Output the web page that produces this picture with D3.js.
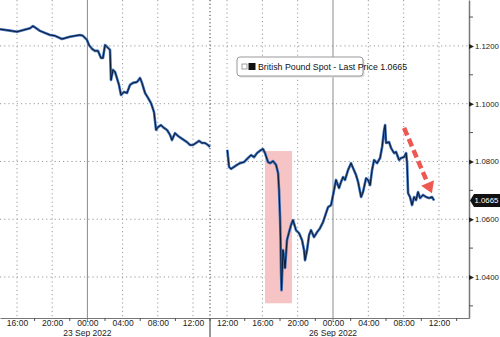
<!DOCTYPE html>
<html lang="en">
<head>
<meta charset="UTF-8">
<title>GBP spot</title>
<script src="https://cdn.jsdelivr.net/npm/d3@7"></script>
<style>
  body { margin: 0; background: #fff; }
  text { font-family: "Liberation Sans", Arial, sans-serif; }
</style>
</head>
<body>
<div id="chart"></div>
<script>
// hours counted from 22 Sep 2022 00:00, friday session then sunday/monday session
var hoursFri = [14.07, 15.2, 16.0, 17.48, 17.82, 18.61, 19.75, 20.32, 21.11, 22.02, 23.16, 23.5, 23.95, 24.18, 24.52, 24.86, 25.2, 25.55, 25.77, 26.0, 26.23, 26.57, 26.68, 26.91, 27.14, 27.59, 27.82, 28.16, 28.5, 28.84, 29.18, 29.64, 29.98, 30.2, 30.55, 30.89, 31.23, 31.57, 31.8, 32.02, 32.36, 32.7, 33.05, 33.39, 33.61, 33.95, 34.3, 34.64, 34.98, 35.32, 35.66, 36.0, 36.34, 36.68, 37.02, 37.36, 37.7, 37.93];
var priceFri = [1.1258, 1.1253, 1.1249, 1.1261, 1.1269, 1.1252, 1.1238, 1.1235, 1.1224, 1.1232, 1.1238, 1.1235, 1.1221, 1.1203, 1.1190, 1.1183, 1.1183, 1.1158, 1.1158, 1.1203, 1.1197, 1.1186, 1.1082, 1.1117, 1.1110, 1.1065, 1.1030, 1.1041, 1.1037, 1.1065, 1.1072, 1.1075, 1.1089, 1.1072, 1.1037, 1.1020, 1.1002, 1.0971, 1.0909, 1.0919, 1.0926, 1.0916, 1.0909, 1.0892, 1.0874, 1.0898, 1.0888, 1.0881, 1.0874, 1.0867, 1.0857, 1.0857, 1.0864, 1.0871, 1.0864, 1.0864, 1.0857, 1.0850];

var hoursMon = [84.03, 84.23, 84.45, 84.79, 85.13, 85.47, 85.93, 86.38, 86.72, 87.06, 87.4, 87.85, 88.08, 88.3, 88.64, 88.87, 89.21, 89.55, 89.78, 89.89, 90.0, 90.06, 90.12, 90.17, 90.34, 90.57, 90.79, 91.02, 91.25, 91.47, 91.81, 92.15, 92.49, 92.72, 92.83, 93.06, 93.29, 93.51, 93.85, 94.19, 94.53, 94.87, 95.21, 95.44, 95.78, 96.12, 96.34, 96.68, 96.91, 97.14, 97.36, 97.7, 98.04, 98.27, 98.61, 98.84, 99.18, 99.4, 99.74, 99.97, 100.2, 100.42, 100.65, 100.99, 101.33, 101.56, 101.79, 101.9, 102.01, 102.35, 102.58, 102.92, 103.14, 103.48, 103.71, 104.05, 104.28, 104.39, 104.5, 104.72, 104.95, 105.18, 105.4, 105.63, 105.86, 106.2, 106.54, 106.88, 107.21, 107.44];
var priceMon = [1.0840, 1.0781, 1.0774, 1.0781, 1.0788, 1.0794, 1.0798, 1.0812, 1.0822, 1.0815, 1.0829, 1.0840, 1.0843, 1.0829, 1.0798, 1.0794, 1.0801, 1.0788, 1.0760, 1.0701, 1.0607, 1.0528, 1.0413, 1.0354, 1.0493, 1.0431, 1.0528, 1.0555, 1.0580, 1.0597, 1.0562, 1.0552, 1.0528, 1.0493, 1.0458, 1.0493, 1.0545, 1.0562, 1.0538, 1.0555, 1.0569, 1.0590, 1.0621, 1.0642, 1.0649, 1.0701, 1.0736, 1.0708, 1.0729, 1.0746, 1.0736, 1.0770, 1.0794, 1.0777, 1.0753, 1.0729, 1.0677, 1.0694, 1.0742, 1.0736, 1.0718, 1.0770, 1.0805, 1.0794, 1.0812, 1.0850, 1.0909, 1.0926, 1.0864, 1.0867, 1.0846, 1.0829, 1.0833, 1.0805, 1.0812, 1.0815, 1.0829, 1.0794, 1.0690, 1.0677, 1.0649, 1.0677, 1.0666, 1.0694, 1.0673, 1.0684, 1.0677, 1.0673, 1.0677, 1.0665];

var xTicks = [16, 20, 24, 28, 32, 36, 84, 88, 92, 96, 100, 104, 108];
var midnights = [24, 96];
var dateLabels = ["23 Sep 2022", "26 Sep 2022"];
var yTicks = [1.04, 1.06, 1.08, 1.10, 1.12];
var yMinor = [1.03, 1.05, 1.07, 1.09, 1.11, 1.13];
var lastPrice = 1.0665;
var legendText = "British Pound Spot - Last Price 1.0665";
var boxHours = [88.3, 91.36], boxPrices = [1.0309, 1.0836];
var arrowHours = [104.05, 107.2], arrowPrices = [1.0916, 1.0690];

var W = 500, H = 337;
var plotW = 469, plotH = 318;
var breakX = 210;

var svg = d3.select("#chart").append("svg")
    .attr("width", W).attr("height", H);

// two sessions squeezed together at the weekend gap
var x = d3.scaleLinear()
    .domain([14.07, 37.93, 82.07, 111.4])
    .range([0, breakX, breakX, plotW]);

var y = d3.scaleLinear()
    .domain([1.0258, 1.1359])
    .range([plotH, 0]);

var hhmm = function (h) { return d3.format("02d")(h % 24) + ":00"; };

// grid
var grid = svg.append("g");
grid.selectAll(".hg").data(yTicks).enter().append("line")
    .attr("x1", 0).attr("x2", plotW)
    .attr("y1", function (d) { return y(d); }).attr("y2", function (d) { return y(d); })
    .attr("stroke", "#9a9a9a").attr("stroke-dasharray", "1.2,3");
grid.selectAll(".vg").data(xTicks.filter(function (d) { return midnights.indexOf(d) < 0; }))
    .enter().append("line")
    .attr("x1", function (d) { return x(d); }).attr("x2", function (d) { return x(d); })
    .attr("y1", 0).attr("y2", plotH)
    .attr("stroke", "#9a9a9a").attr("stroke-dasharray", "1.2,3");
grid.append("line")
    .attr("x1", breakX).attr("x2", breakX).attr("y1", 0).attr("y2", plotH)
    .attr("stroke", "#333").attr("stroke-dasharray", "1.2,2.5");
grid.append("line")
    .attr("x1", breakX).attr("x2", breakX).attr("y1", plotH).attr("y2", H)
    .attr("stroke", "#333");
grid.selectAll(".mid").data(midnights).enter().append("line")
    .attr("x1", function (d) { return x(d); }).attr("x2", function (d) { return x(d); })
    .attr("y1", 0).attr("y2", plotH + 4)
    .attr("stroke", "#8a8a8a").attr("stroke-width", 1);

// highlight box behind the crash
svg.append("rect")
    .attr("x", x(boxHours[0])).attr("width", x(boxHours[1]) - x(boxHours[0]))
    .attr("y", y(boxPrices[1])).attr("height", y(boxPrices[0]) - y(boxPrices[1]))
    .attr("fill", "#f6c4c4");

// price line
var line = d3.line()
    .x(function (d) { return x(d[0]); })
    .y(function (d) { return y(d[1]); });

var sessions = [d3.zip(hoursFri, priceFri), d3.zip(hoursMon, priceMon)];
sessions.forEach(function (s) {
    svg.append("path").datum(s).attr("d", line)
        .attr("fill", "none").attr("stroke", "#3c6db8").attr("stroke-width", 2.6)
        .attr("stroke-linejoin", "round");
    svg.append("path").datum(s).attr("d", line)
        .attr("fill", "none").attr("stroke", "#0c1a30").attr("stroke-width", 1)
        .attr("stroke-linejoin", "round");
});

// red dashed arrow
var ax0 = x(arrowHours[0]), ay0 = y(arrowPrices[0]);
var ax1 = x(arrowHours[1]), ay1 = y(arrowPrices[1]);
var ang = Math.atan2(ay1 - ay0, ax1 - ax0);
var headLen = 11, headW = 7;
var bx = ax1 - headLen * Math.cos(ang), by = ay1 - headLen * Math.sin(ang);
svg.append("line")
    .attr("x1", ax0).attr("y1", ay0).attr("x2", bx).attr("y2", by)
    .attr("stroke", "#ec4640").attr("stroke-width", 4.5)
    .attr("stroke-dasharray", "8,4").attr("opacity", 0.9);
svg.append("polygon")
    .attr("points", [
        [ax1, ay1],
        [bx + headW * Math.sin(ang), by - headW * Math.cos(ang)],
        [bx - headW * Math.sin(ang), by + headW * Math.cos(ang)]
    ].map(function (p) { return p.join(","); }).join(" "))
    .attr("fill", "#ec4640").attr("opacity", 0.9);

// x axis
var xAxis = svg.append("g")
    .attr("transform", "translate(0," + plotH + ")")
    .call(d3.axisBottom(x).tickValues(xTicks).tickFormat(hhmm).tickSize(0).tickPadding(2));
xAxis.select(".domain").attr("stroke", "#777").attr("stroke-width", 1.2);
xAxis.selectAll("text").attr("font-size", "8.5px").attr("fill", "#222");
svg.append("g").selectAll("line").data(xTicks.map(function (d) { return d + 2; }))
    .enter().append("line")
    .attr("x1", function (d) { return x(d); }).attr("x2", function (d) { return x(d); })
    .attr("y1", plotH).attr("y2", plotH + 3).attr("stroke", "#555");

svg.append("g").selectAll("text").data(midnights).enter().append("text")
    .attr("x", function (d) { return x(d); }).attr("y", 336)
    .attr("text-anchor", "middle").attr("font-size", "8.5px").attr("fill", "#222")
    .text(function (d, i) { return dateLabels[i]; });

// y axis on the right
var yAxis = svg.append("g")
    .attr("transform", "translate(" + plotW + ",0)")
    .call(d3.axisRight(y).tickValues(yTicks).tickFormat(d3.format(".4f")).tickSize(0).tickPadding(6));
yAxis.select(".domain").attr("stroke", "#777").attr("stroke-width", 1.5);
yAxis.selectAll("text").attr("font-size", "7.8px").attr("fill", "#222");
yAxis.selectAll(".tick").append("path")
    .attr("d", "M0,-2.5L5,0L0,2.5Z").attr("fill", "#222");
svg.append("g").selectAll("line").data(yMinor).enter().append("line")
    .attr("x1", plotW).attr("x2", plotW + 4)
    .attr("y1", function (d) { return y(d); }).attr("y2", function (d) { return y(d); })
    .attr("stroke", "#555");

// last price tag
var ly = y(lastPrice);
svg.append("path")
    .attr("d", "M" + (plotW + 1) + "," + ly + "L" + (plotW + 5) + "," + (ly - 6.5) +
        "L" + W + "," + (ly - 6.5) + "L" + W + "," + (ly + 6.5) + "L" + (plotW + 5) + "," + (ly + 6.5) + "Z")
    .attr("fill", "#111");
svg.append("text")
    .attr("x", plotW + 5.5).attr("y", ly + 3)
    .attr("font-size", "7.8px").attr("fill", "#fff")
    .text(d3.format(".4f")(lastPrice));

// legend box
var lg = svg.append("g").attr("transform", "translate(237,57)");
lg.append("rect").attr("x", 1.5).attr("y", 1.5).attr("width", 126).attr("height", 19)
    .attr("rx", 3).attr("fill", "#ddd");
lg.append("rect").attr("width", 126).attr("height", 19).attr("rx", 3)
    .attr("fill", "#fff").attr("stroke", "#999");
lg.append("rect").attr("x", 5).attr("y", 7).attr("width", 5).attr("height", 5)
    .attr("fill", "none").attr("stroke", "#888").attr("stroke-width", 0.8);
lg.append("rect").attr("x", 11.5).attr("y", 6).attr("width", 7).attr("height", 7)
    .attr("fill", "#111");
lg.append("text").attr("x", 21).attr("y", 12.8)
    .attr("font-size", "8.8px").attr("fill", "#111")
    .text(legendText);
</script>
</body>
</html>
